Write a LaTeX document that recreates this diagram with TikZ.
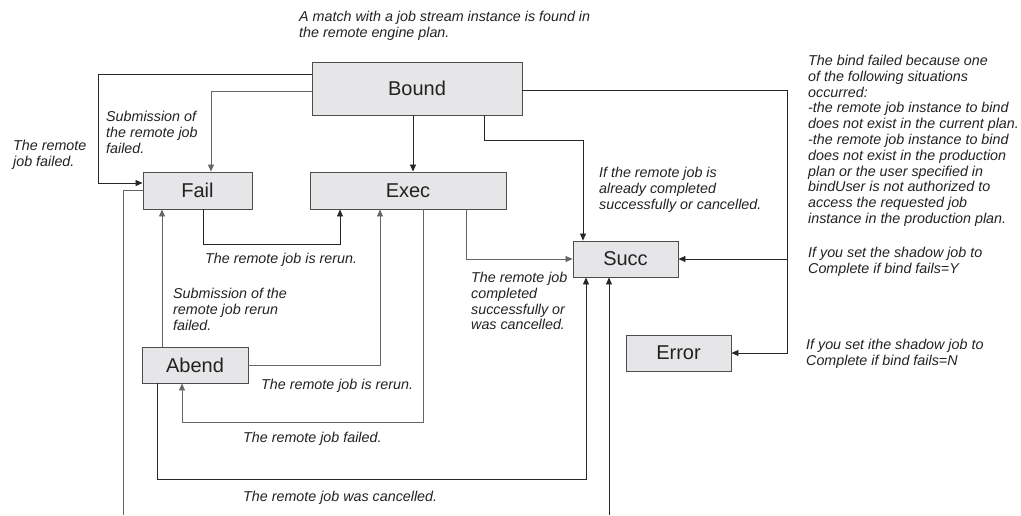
\documentclass[tikz,border=0pt]{standalone}
\usepackage{xcolor}
\usepackage{fontspec}
\setmainfont{Liberation Sans}
\usetikzlibrary{arrows.meta}

\definecolor{boxfill}{HTML}{E6E6E8}
\definecolor{boxline}{HTML}{4D4D4D}
\definecolor{txt}{HTML}{222222}

\begin{document}
\begin{tikzpicture}[
    x=1pt, y=-1pt,
    state/.style={draw=boxline, fill=boxfill, line width=0.9pt, inner sep=0pt,
                  font=\fontsize{20}{24}\selectfont, text=txt},
    arr/.style={-{Triangle[length=7pt,width=6pt]}, line width=0.85pt, draw=black!85},
    arrg/.style={arr, draw=black!60},
    linkg/.style={line width=0.85pt, draw=black!60},
    note/.style={anchor=north west, inner sep=0pt, align=left, text=txt,
                 font=\fontsize{14.3}{15.8}\selectfont\itshape}
  ]
  \useasboundingbox (0,0) rectangle (1021,515);
  % States
  \foreach \nm/\txt/\x/\y/\w/\h in {bound/Bound/417/88.5/210/53,
                                   fail/Fail/197.5/190.5/109/37,
                                   exec/Exec/408/190.5/196/37,
                                   succ/Succ/625.5/259/105/36,
                                   error/Error/678.5/353/105/36,
                                   abend/Abend/195/365/106/36} {
    \node[state, minimum width=\w pt, minimum height=\h pt] (\nm) at (\x,\y) {\txt};
  }
  % Loose ends at the bottom edge
  \coordinate (failout) at (123,515);
  \coordinate (succin) at (609,515);
  % From Bound
  \draw[arr] (bound.west |- 0,74) -| (98,183) -- (fail.west |- 0,183);
  \draw[arrg] (bound.west |- 0,91) -| (fail.north -| 211,0);
  \draw[arr] (bound.south -| 413,0) -- (exec.north -| 413,0);
  \draw[arr] (bound.south -| 484,0) |- (583,140) -- (succ.north -| 583,0);
  \draw[arr] (bound.east |- 0,90) -| (787,259) -- (succ.east);
  \draw[arr] (787,259) |- (error.east);
  % From Fail, Exec and Abend
  \draw[arr] (fail.south -| 203,0) |- (340,244) -- (exec.south -| 340,0);
  \draw[linkg] (fail.west) -| (failout);
  \draw[arrg] (exec.south -| 466,0) |- (succ.west);
  \draw[arrg] (exec.south -| 423,0) |- (182,422) -- (abend.south -| 182,0);
  \draw[arrg] (abend.north -| 162,0) -- (fail.south -| 162,0);
  \draw[arrg] (abend.east) -| (exec.south -| 380,0);
  \draw[arr] (abend.south -| 157,0) |- (586,479) -- (succ.south -| 586,0);
  \draw[arr] (succin) -- (succ.south -| succin);
  % Labels
  \node[note] (lmatch) at (299,11) {A match with a job stream instance is found in\\the remote engine plan.};
  \node[note] (lbind) at (808,55) {The bind failed because one\\of the following situations\\occurred:\\-the remote job instance to bind\\does not exist in the current plan.\\-the remote job instance to bind\\does not exist in the production\\plan or the user specified in\\bindUser is not authorized to\\access the requested job\\instance in the production plan.};
  \node[note] (lfailed) at (13,140) {The remote\\job failed.};
  \node[note] (lsubmit) at (106,111) {Submission of\\the remote job\\failed.};
  \node[note] (ldone) at (599,167) {If the remote job is\\already completed\\successfully or cancelled.};
  \node[note] (lrerun) at (205,253) {The remote job is rerun.};
  \node[note] (lsubrerun) at (173,288) {Submission of the\\remote job rerun\\failed.};
  \node[note] (lcompl) at (471,272) {The remote job\\completed\\successfully or\\was cancelled.};
  \node[note] (lrerunb) at (261,379) {The remote job is rerun.};
  \node[note] (lfailedb) at (243,432) {The remote job failed.};
  \node[note] (lcanc) at (243,491) {The remote job was cancelled.};
  \node[note] (lyes) at (808,247) {If you set the shadow job to\\Complete if bind fails=Y};
  \node[note] (lno) at (806,339) {If you set ithe shadow job to\\Complete if bind fails=N};
\end{tikzpicture}
\end{document}
